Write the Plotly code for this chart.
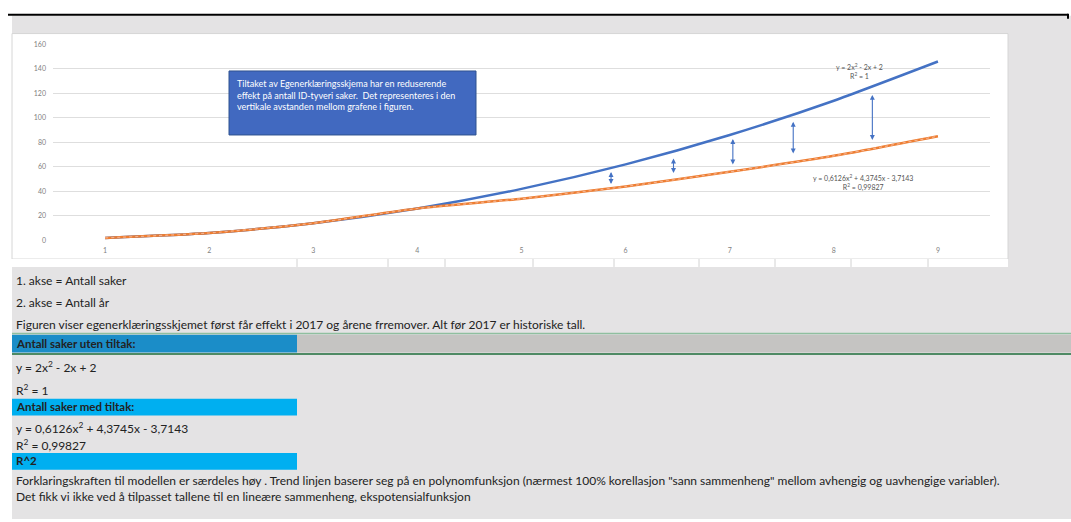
import plotly.graph_objects as go

W, H = 1071, 522

# ---- data ----
years = [1, 2, 3, 4, 5, 6, 7, 8, 9]
uten_tiltak = [2, 6, 14, 26, 42, 62, 86, 114, 146]
med_tiltak = [2, 6, 14, 26, 34, 44, 56, 69, 85]
y_ticks = [0, 20, 40, 60, 80, 100, 120, 140, 160]
arrow_x = [5.86, 6.46, 7.03, 7.61, 8.37]
arrow_top = [57, 68, 84, 98, 120]
arrow_bottom = [46, 55, 62, 71, 82]

FONT = "Lato"
TXT = "#222222"


def px(x):
    return x / W


def py(y):
    return 1 - y / H


fig = go.Figure()
fig.add_trace(go.Scatter(x=years, y=uten_tiltak, mode="lines",
                         line=dict(color="#4472c4", width=2.5, shape="spline", smoothing=0.6),
                         name="Uten tiltak", hoverinfo="x+y"))
fig.add_trace(go.Scatter(x=years, y=med_tiltak, mode="lines",
                         line=dict(color="#ed7d31", width=2.5, shape="spline", smoothing=0.6),
                         name="Med tiltak", hoverinfo="x+y"))
fig.add_trace(go.Scatter(x=years, y=med_tiltak, mode="lines",
                         line=dict(color="#f6b08a", width=1.2, shape="spline", smoothing=0.6, dash="dot"),
                         showlegend=False, hoverinfo="skip"))

shapes = []


def rect(x0, y0, x1, y1, fill, line=None, lw=0, layer="below"):
    shapes.append(dict(type="rect", xref="paper", yref="paper",
                       x0=px(x0), x1=px(x1), y0=py(y1), y1=py(y0),
                       fillcolor=fill, line=dict(color=line or fill, width=lw), layer=layer))


def hline(x0, x1, y, color, w, layer="below"):
    shapes.append(dict(type="line", xref="paper", yref="paper",
                       x0=px(x0), x1=px(x1), y0=py(y), y1=py(y),
                       line=dict(color=color, width=w), layer=layer))


def vline(x, y0, y1, color, w, layer="below"):
    shapes.append(dict(type="line", xref="paper", yref="paper",
                       x0=px(x), x1=px(x), y0=py(y0), y1=py(y1),
                       line=dict(color=color, width=w), layer=layer))


# sheet background
rect(12, 11, W, H, "#e4e3e4")
hline(8, 1068, 10, "#000000", 2)
vline(1068, 9, 14, "#000000", 2)
# chart area
rect(12, 29, 1008, 258, "#ffffff", "#d6d6d6", 1)
# cell strip under chart
rect(12, 258, 1008, 266, "#ffffff")
for sx in [297, 388, 445, 533, 614, 699, 775, 851, 928]:
    vline(sx, 258, 266, "#d2d2d2", 1)
# selected row
rect(297, 335, W, 353, "#c5c4c2")
rect(12, 335, 297, 353, "#1b8dc8")
hline(12, W, 333.5, "#8fbf9f", 1.5)
hline(12, W, 354.5, "#4e8a64", 2)
# highlighted cells
rect(12, 400, 297, 417, "#00aff0")
rect(12, 455, 297, 472, "#00aff0")
# text box in chart
rect(229, 67, 476, 132, "#4169c0", "#2f528f", 1, layer="above")

ann = []


def text(x, y, s, size=12, color=TXT, xanchor="left", align="left"):
    ann.append(dict(xref="paper", yref="paper", x=px(x), y=py(y), text=s,
                    showarrow=False, xanchor=xanchor, yanchor="middle", align=align,
                    font=dict(family=FONT, size=size, color=color)))


text(235, 91, "Tiltaket av Egenerklæringsskjema har en reduserende<br>"
              "effekt på antall ID-tyveri saker.  Det representeres i den<br>"
              "vertikale avstanden mellom grafene i figuren.", size=9, color="#ffffff")
text(859, 67, "y = 2x<sup>2</sup> - 2x + 2<br>R<sup>2</sup> = 1", size=7, color="#555555",
     xanchor="center", align="center")
text(863, 180, "y = 0,6126x<sup>2</sup> + 4,3745x - 3,7143<br>R<sup>2</sup> = 0,99827", size=7,
     color="#555555", xanchor="center", align="center")

text(14, 280, "1. akse = Antall saker")
text(14, 302, "2. akse = Antall år")
text(14, 324, "Figuren viser egenerklæringsskjemet først får effekt i 2017 og årene frremover. "
              "Alt før 2017 er historiske tall.")
text(14, 344, "<b>Antall saker uten tiltak:</b>", size=11.5)
text(14, 368, "y = 2x<sup>2</sup> - 2x + 2")
text(14, 391, "R<sup>2</sup> = 1")
text(14, 408, "<b>Antall saker med tiltak:</b>", size=11.5)
text(14, 430, "y = 0,6126x<sup>2</sup> + 4,3745x - 3,7143")
text(14, 447, "R<sup>2</sup> = 0,99827")
text(14, 463, "<b>R^2</b>", size=11.5)
text(14, 483, "Forklaringskraften til modellen er særdeles høy . Trend linjen baserer seg på en "
              "polynomfunksjon (nærmest 100% korellasjon \"sann sammenheng\" mellom avhengig og "
              "uavhengige variabler).")
text(14, 499, "Det fikk vi ikke ved å tilpasset tallene til en lineære sammenheng, ekspotensialfunksjon")

# double-headed arrows showing the reduction
for ax_, top, bot in zip(arrow_x, arrow_top, arrow_bottom):
    ann.append(dict(xref="x", yref="y", axref="x", ayref="y",
                    x=ax_, y=bot, ax=ax_, ay=top, text="", showarrow=True,
                    arrowside="end+start", arrowhead=2, arrowsize=0.9, arrowwidth=1.1,
                    arrowcolor="#4472c4", standoff=0, startstandoff=0))

fig.update_layout(
    width=W, height=H, margin=dict(l=0, r=0, t=0, b=0),
    paper_bgcolor="#ffffff", plot_bgcolor="rgba(0,0,0,0)",
    showlegend=False, shapes=shapes, annotations=ann,
    font=dict(family=FONT, color="#7f7f7f", size=7),
    xaxis=dict(domain=[px(53), px(990)], range=[0.5, 9.5], tickvals=years,
               showgrid=False, zeroline=False, showline=False, ticks="",
               ticklabelstandoff=5, tickfont=dict(size=7, color="#7f7f7f"), fixedrange=True),
    yaxis=dict(domain=[py(239), py(40)], range=[0, 160], tickvals=y_ticks,
               showgrid=True, gridcolor="#dedede", gridwidth=1, zeroline=False,
               showline=False, ticks="", ticklabelstandoff=6,
               tickfont=dict(size=7, color="#7f7f7f"), fixedrange=True),
)

fig.write_html("out.html")
